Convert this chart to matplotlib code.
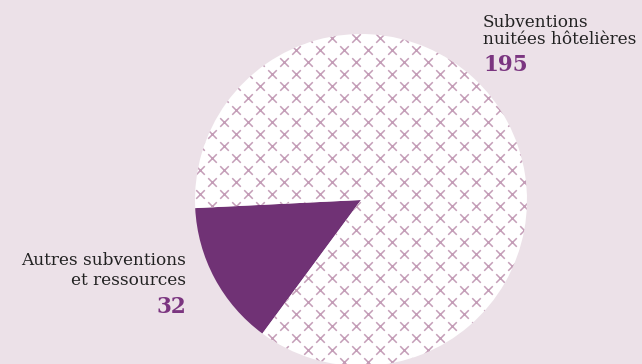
import numpy as np
import matplotlib.pyplot as plt

labels = ["Autres subventions\net ressources", "Subventions\nnuitées hôtelières"]
values = [32, 195]

bg = "#ece1e8"
purple = "#703275"
num_color = "#7b3580"
cross_color = "#c49db7"

fig = plt.figure(figsize=(6.42, 3.64), dpi=100, facecolor=bg)
ax = fig.add_axes([0, 0, 1, 1])
ax.set_facecolor(bg)

# pie in pixel-like units, y going up
cx, cy, r = 361, 164, 166
wedges, _ = ax.pie(values, colors=[purple, "white"], startangle=182.8,
                   counterclock=True, center=(cx, cy), radius=r,
                   wedgeprops=dict(linewidth=0))
ax.set_xlim(0, 642)
ax.set_ylim(0, 364)
ax.set_aspect("equal")
ax.axis("off")

# cross pattern on the white slice
step = 12
gx = np.arange(308 - 12 * step * 2, 642, step)
gy = np.arange(110 - 12 * step, 380, step)
px, py = [], []
for i, x in enumerate(gx):
    for j, y in enumerate(gy):
        if (i + j) % 2 == 0:
            px.append(x)
            py.append(364 - y)
sc = ax.scatter(px, py, marker="x", s=38, linewidths=1.1, color=cross_color, zorder=3)
sc.set_clip_path(wedges[1])

serif = "DejaVu Serif"
tc = "#222222"
fs = 12.2
ax.text(483, 364 - 27, "Subventions", family=serif, fontsize=fs, color=tc, va="baseline", ha="left")
ax.text(483, 364 - 44, "nuitées hôtelières", family=serif, fontsize=fs, color=tc, va="baseline", ha="left")
ax.text(483, 364 - 71, str(values[1]), family=serif, fontsize=15.5, weight="bold", color=num_color, va="baseline", ha="left")

ax.text(186, 364 - 265, "Autres subventions", family=serif, fontsize=fs, color=tc, va="baseline", ha="right")
ax.text(186, 364 - 285, "et ressources", family=serif, fontsize=fs, color=tc, va="baseline", ha="right")
ax.text(186, 364 - 313, str(values[0]), family=serif, fontsize=15.5, weight="bold", color=num_color, va="baseline", ha="right")

fig.savefig("out.png", dpi=100, facecolor=bg)
